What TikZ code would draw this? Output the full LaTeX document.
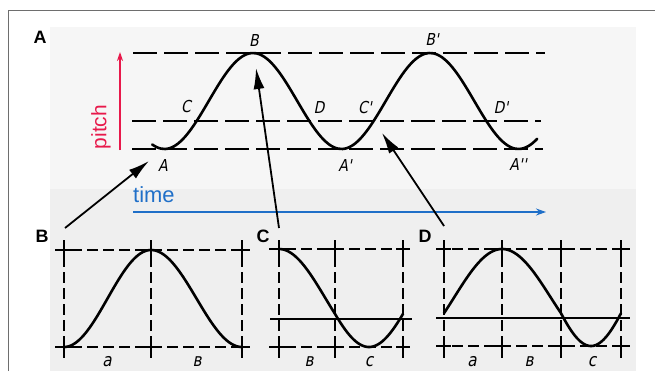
\documentclass[tikz,border=0pt]{standalone}
\usepackage{fontspec}
\setsansfont{Liberation Sans}
\newfontfamily\draftfont[FakeSlant=0.2,FakeStretch=0.85]{DejaVu Sans}
\usetikzlibrary{arrows.meta}
\definecolor{pitchred}{HTML}{E8194B}
\definecolor{timeblue}{HTML}{1F6FC8}
\definecolor{scanlight}{HTML}{F6F6F6}
\definecolor{scandark}{HTML}{EFEFEF}
\definecolor{framegray}{HTML}{6E6E6E}

% one stretch of the pitch contour: phases #1..#2 mapped on x #3..#4
\newcommand{\wavepart}[6]{%
  plot[domain=#1:#2, samples=90, smooth]
  ({#3+(\x-(#1))/(#2-(#1))*(#4-#3)}, {#5-#6*cos(\x)})}

\begin{document}
\begin{tikzpicture}[
    x=1bp, y=-1bp,
    panel/.style={font=\sffamily\bfseries\fontsize{18}{20}\selectfont, inner sep=0pt},
    point/.style={font=\draftfont\fontsize{16.5}{18}\selectfont, inner sep=0pt},
    seg/.style={font=\draftfont\fontsize{18}{20}\selectfont, inner sep=0pt, anchor=base},
    wave/.style={line width=2.6bp, line cap=round, line join=round},
    level/.style={line width=1.4bp, dash pattern=on 24bp off 7bp},
    grid/.style={line width=1.4bp, dash pattern=on 11bp off 5bp},
    base/.style={line width=1.4bp},
    cross/.style={line width=1.4bp},
    link/.style={-{Latex[length=21bp,width=11bp]}, line width=1.8bp},
]
\useasboundingbox (0,0) rectangle (655,371);

% scanned page and frame
\fill[scanlight] (50,27) rectangle (636,189);
\fill[scandark] (50,189) rectangle (636,371);
\draw[framegray, line width=1bp] (8,371) -- (8,10) -- (655,10);

% Panel A: levels and contour
\draw[level] (133,53) -- (545,53);
\draw[level] (132,121) -- (541,121);
\draw[level] (132,149) -- (543,149);
\draw[wave] \wavepart{-205}{578}{152.2}{537.2}{101}{48};

% Points on the contour
\node[point] (pB)  at (254,41)  {B};
\node[point] (pBp) at (432,40)  {B'};
\node[point] (pC)  at (186,107) {C};
\node[point] (pD)  at (319,108) {D};
\node[point] (pCp) at (365,108) {C'};
\node[point] (pDp) at (501,108) {D'};
\node[point] (pA)  at (163,166) {A};
\node[point] (pAp) at (345,166) {A'};
\node[point] (pApp) at (518,165) {A''};

% Axes
\coordinate (pitch0) at (120,150);
\coordinate (pitch1) at (120,52);
\draw[pitchred, line width=1.2bp, -{Stealth[length=9bp,width=6bp]}] (pitch0) -- (pitch1);
\node[pitchred, font=\sffamily\fontsize{21}{23}\selectfont, rotate=90, inner sep=0pt]
  (pitchlab) at (101,127) {pitch};
\coordinate (time0) at (133,212);
\coordinate (time1) at (546,212);
\draw[timeblue, line width=1.2bp, -{Stealth[length=10bp,width=7bp]}] (time0) -- (time1);
\node[timeblue, font=\sffamily\fontsize{22}{24}\selectfont, anchor=base west, inner sep=0pt]
  (timelab) at (133,202) {time};

% Panel labels
\node[panel] (labA) at (40,37)  {A};
\node[panel] (labB) at (42,236) {B};
\node[panel] (labC) at (263,236) {C};
\node[panel] (labD) at (425,236) {D};

% Links from the small panels to panel A
\coordinate (fromB) at (65,228);
\coordinate (fromC) at (279,228);
\coordinate (fromD) at (444,226);
\coordinate (toA)  at (149,161);
\coordinate (toB)  at (256,68);
\coordinate (toCp) at (382,133);
\draw[link] (fromB) -- (toA);
\draw[link] (fromC) -- (toB);
\draw[link] (fromD) -- (toCp);

% Panel B
\draw[grid] (55,250) -- (250,250);
\draw[grid] (55,347) -- (250,347);
\foreach \gx in {64,151,242} {
  \draw[grid] (\gx,240) -- (\gx,358);
  \draw[cross] (\gx-7,250) -- (\gx+7,250) (\gx,242) -- (\gx,258);
  \draw[cross] (\gx-7,347) -- (\gx+7,347) (\gx,339) -- (\gx,356);
}
\draw[wave] \wavepart{-180}{0}{64}{151}{298.5}{48.5}
            \wavepart{0}{180}{151}{242}{298.5}{48.5};
\node[seg] (bA) at (107,366) {a};
\node[seg] (bB) at (197,366) {в};

% Panel C
\draw[grid] (269,249) -- (412,249);
\draw[grid] (269,347) -- (412,347);
\draw[base] (270,319) -- (412,319);
\foreach \gx in {279,335,403} {
  \draw[grid] (\gx,240) -- (\gx,358);
  \draw[cross] (\gx-7,249) -- (\gx+7,249) (\gx,241) -- (\gx,257);
  \draw[cross] (\gx-7,347) -- (\gx+7,347) (\gx,339) -- (\gx,356);
}
\draw[wave] \wavepart{0}{108.9}{279}{335}{298}{49}
            \wavepart{108.9}{251.1}{335}{403}{298}{49};
\node[seg] (cB) at (309,366) {в};
\node[seg] (cC) at (369,366) {c};

% Panel D
\draw[grid] (436,249) -- (630,249);
\draw[grid] (436,346) -- (630,346);
\draw[base] (436,318) -- (630,318);
\foreach \gx in {444,502,561,621} {
  \draw[grid] (\gx,240) -- (\gx,358);
  \draw[cross] (\gx-7,249) -- (\gx+7,249) (\gx,241) -- (\gx,257);
  \draw[cross] (\gx-7,346) -- (\gx+7,346) (\gx,338) -- (\gx,355);
}
\draw[wave] \wavepart{-108.9}{0}{444}{502}{297.5}{48.5}
            \wavepart{0}{108.9}{502}{561}{297.5}{48.5}
            \wavepart{108.9}{251.1}{561}{621}{297.5}{48.5};
\node[seg] (dA) at (472,366) {a};
\node[seg] (dB) at (529,366) {в};
\node[seg] (dC) at (592,366) {c};
\end{tikzpicture}
\end{document}
